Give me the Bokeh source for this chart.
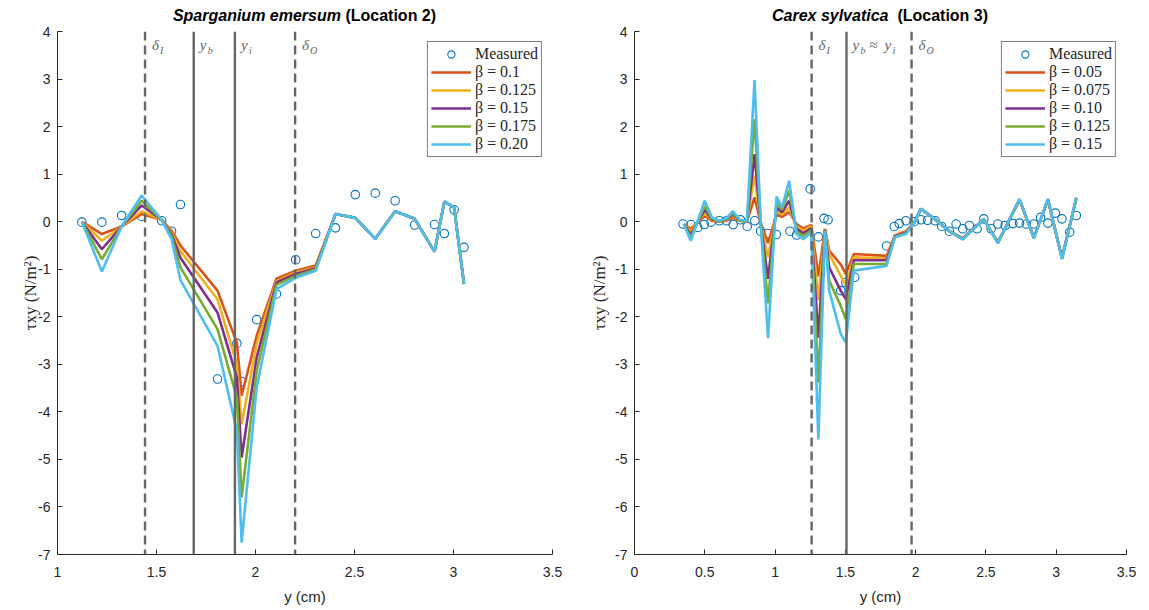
from bokeh.plotting import figure
from bokeh.layouts import row, column
from bokeh.models import Span, Label, Legend, LegendItem, Range1d, FixedTicker, NumeralTickFormatter, Div, Spacer
from bokeh.embed import file_html
from bokeh.resources import INLINE

# ---------------- data: left panel (Sparganium emersum, Location 2) ----------------
left_x = [1.123, 1.224, 1.324, 1.425, 1.526, 1.576, 1.621, 1.808, 1.906, 1.930, 2.006, 2.106,
          2.203, 2.304, 2.404, 2.504, 2.605, 2.705, 2.804, 2.904, 2.954, 3.003, 3.053]
left_measured = [-0.01, -0.01, 0.13, 0.11, 0.02, -0.20, 0.36, -3.31, -2.56, -3.36, -2.06, -1.52,
                 -0.80, -0.25, -0.13, 0.57, 0.60, 0.44, -0.07, -0.06, -0.25, 0.25, -0.54]
left_b010 = [0.0, -0.26, -0.10, 0.16, 0.04, -0.19, -0.50, -1.45, -2.55, -3.66, -2.40, -1.20,
             -1.03, -0.92, 0.16, 0.08, -0.36, 0.22, 0.06, -0.63, 0.42, 0.30, -1.31]
left_b0125 = [0.0, -0.40, -0.10, 0.22, 0.04, -0.23, -0.62, -1.63, -3.00, -4.26, -2.57, -1.25,
              -1.07, -0.96, 0.16, 0.08, -0.36, 0.22, 0.06, -0.63, 0.42, 0.30, -1.31]
left_b015 = [0.0, -0.58, -0.10, 0.34, 0.04, -0.27, -0.76, -1.91, -3.28, -4.96, -2.86, -1.28,
             -1.10, -0.98, 0.16, 0.08, -0.36, 0.22, 0.06, -0.63, 0.42, 0.30, -1.31]
left_b0175 = [0.0, -0.79, -0.10, 0.44, 0.04, -0.31, -0.96, -2.26, -3.70, -5.80, -3.14, -1.33,
              -1.14, -1.00, 0.16, 0.08, -0.36, 0.22, 0.06, -0.63, 0.42, 0.30, -1.31]
left_b020 = [0.0, -1.05, -0.10, 0.55, 0.04, -0.36, -1.23, -2.61, -4.40, -6.75, -3.49, -1.42,
             -1.18, -1.03, 0.16, 0.08, -0.36, 0.22, 0.06, -0.63, 0.42, 0.30, -1.31]
left_betas = ["β = 0.1", "β = 0.125", "β = 0.15", "β = 0.175", "β = 0.20"]
left_lines = [1.442, 1.688, 1.896, 2.200]          # delta_I, y_b, y_i, delta_O

# ---------------- data: right panel (Carex sylvatica, Location 3) ----------------
right_meas_x = [0.345, 0.402, 0.450, 0.497, 0.545, 0.604, 0.654, 0.702, 0.754, 0.802, 0.856, 0.897,
                0.949, 1.008, 1.106, 1.153, 1.250, 1.308, 1.348, 1.377, 1.467, 1.503, 1.567, 1.793,
                1.848, 1.883, 1.931, 1.990, 2.038, 2.085, 2.138, 2.185, 2.240, 2.288, 2.335, 2.382,
                2.437, 2.485, 2.537, 2.585, 2.637, 2.692, 2.739, 2.787, 2.841, 2.889, 2.941, 2.994,
                3.041, 3.096, 3.143]
right_measured = [-0.05, -0.06, -0.12, -0.06, -0.01, 0.02, 0.02, -0.06, 0.04, -0.10, 0.02, -0.20,
                  -0.25, -0.27, -0.20, -0.28, 0.69, -0.32, 0.07, 0.04, -1.45, -1.28, -1.17, -0.51,
                  -0.10, -0.04, 0.02, 0.00, 0.04, 0.03, 0.02, -0.10, -0.20, -0.05, -0.15, -0.08,
                  -0.15, 0.06, -0.15, -0.05, -0.08, -0.04, -0.03, -0.05, -0.05, 0.09, -0.03, 0.18,
                  0.06, -0.22, 0.13]
right_x = [0.35, 0.40, 0.50, 0.55, 0.60, 0.65, 0.70, 0.75, 0.80, 0.854, 0.90, 0.95, 1.01, 1.05,
           1.10, 1.153, 1.20, 1.258, 1.308, 1.355, 1.385, 1.467, 1.503, 1.56, 1.793, 1.852, 1.931,
           1.99, 2.038, 2.138, 2.24, 2.335, 2.485, 2.585, 2.739, 2.841, 2.941, 3.041, 3.143]
right_b005 = [-0.05, -0.15, 0.12, 0.02, 0.00, 0.02, 0.08, 0.02, 0.00, 0.51, -0.05, -0.45, 0.15, 0.10,
              0.20, -0.05, -0.14, -0.07, -1.15, -0.15, -0.61, -0.90, -1.10, -0.68, -0.72, -0.29, -0.20,
              -0.02, 0.27, 0.05, -0.20, -0.35, 0.05, -0.43, 0.45, -0.33, 0.45, -0.75, 0.48]
right_b0075 = [-0.05, -0.20, 0.18, 0.04, 0.00, 0.03, 0.12, 0.02, 0.00, 0.97, -0.08, -0.75, 0.22, 0.15,
               0.30, -0.10, -0.19, -0.10, -1.65, -0.16, -0.68, -1.14, -1.33, -0.75, -0.77, -0.30, -0.22,
               -0.02, 0.27, 0.05, -0.20, -0.36, 0.05, -0.44, 0.46, -0.34, 0.46, -0.77, 0.49]
right_b010 = [-0.05, -0.27, 0.25, 0.05, 0.01, 0.04, 0.15, 0.03, 0.01, 1.42, -0.10, -1.20, 0.30, 0.20,
              0.44, -0.15, -0.24, -0.14, -2.44, -0.17, -0.96, -1.45, -1.63, -0.81, -0.81, -0.31, -0.23,
              -0.02, 0.27, 0.05, -0.20, -0.36, 0.05, -0.44, 0.47, -0.34, 0.47, -0.78, 0.50]
right_b0125 = [-0.05, -0.33, 0.33, 0.07, 0.01, 0.05, 0.18, 0.03, 0.01, 2.16, -0.12, -1.72, 0.40, 0.25,
               0.65, -0.20, -0.30, -0.18, -3.38, -0.18, -1.24, -1.77, -2.05, -0.89, -0.89, -0.32, -0.25,
               -0.02, 0.27, 0.05, -0.20, -0.37, 0.05, -0.45, 0.47, -0.35, 0.47, -0.78, 0.50]
right_b015 = [-0.05, -0.40, 0.44, 0.09, 0.02, 0.06, 0.22, 0.04, 0.02, 2.98, -0.15, -2.45, 0.53, 0.30,
              0.86, -0.26, -0.37, -0.23, -4.58, -0.20, -1.45, -2.36, -2.54, -1.03, -0.93, -0.33, -0.26,
              -0.02, 0.27, 0.05, -0.20, -0.37, 0.05, -0.45, 0.48, -0.35, 0.48, -0.79, 0.51]
right_betas = ["β = 0.05", "β = 0.075", "β = 0.10", "β = 0.125", "β = 0.15"]
right_lines = [1.26, 1.508, 1.971]                 # delta_I, y_b ~ y_i, delta_O

left_xticks = [1, 1.5, 2, 2.5, 3, 3.5]
right_xticks = [0, 0.5, 1, 1.5, 2, 2.5, 3, 3.5]
yticks = [-7, -6, -5, -4, -3, -2, -1, 0, 1, 2, 3, 4]

left_title = ("Sparganium emersum", "(Location 2)")
right_title = ("Carex sylvatica", "&nbsp;(Location 3)")
x_label = "y (cm)"
y_label = "τxy (N/m²)"

COLORS = ["#D95319", "#EDB120", "#7E2F8E", "#77AC30", "#4DBEEE"]
MEAS_COLOR = "#0072BD"
AX = "#262626"
GRAY = "#666666"
SERIF = "Liberation Serif"
SANS = "Liberation Sans"
TITLE_H = 24
AXW = 51          # width of the left axis panel
LEFT_PAD = 6      # space before the left figure


def lab(p, x, y, text, size, style="italic", color=GRAY, xo=0):
    p.add_layout(Label(x=x, y=y, text=text, text_font=SERIF, text_font_size=f"{size}px",
                       text_font_style=style, text_color=color, text_align="left",
                       text_baseline="middle", x_offset=xo))


def make(xr, xticks, width, br, lab_standoff):
    p = figure(width=width, height=610 - TITLE_H, output_backend="svg", toolbar_location=None,
               x_range=Range1d(*xr), y_range=Range1d(-7, 4),
               min_border_left=AXW, min_border_right=br, min_border_top=31 - TITLE_H,
               min_border_bottom=56)
    p.outline_line_color = None
    p.xgrid.visible = False
    p.ygrid.visible = False
    p.xaxis.ticker = FixedTicker(ticks=xticks)
    p.yaxis.ticker = FixedTicker(ticks=yticks)
    p.xaxis.formatter = NumeralTickFormatter(format="0.[0]")
    p.yaxis.formatter = NumeralTickFormatter(format="0")
    for ax in (p.xaxis, p.yaxis):
        ax.axis_line_color = AX
        ax.axis_line_width = 1
        ax.major_tick_line_color = AX
        ax.major_tick_in = 5
        ax.major_tick_out = 0
        ax.minor_tick_line_color = None
        ax.major_label_text_font = SANS
        ax.major_label_text_font_size = "14px"
        ax.major_label_text_color = AX
    p.xaxis.major_label_standoff = 12
    p.yaxis.major_label_standoff = 7
    p.xaxis.axis_label = x_label
    p.xaxis.axis_label_text_font = SANS
    p.xaxis.axis_label_text_font_size = "15px"
    p.xaxis.axis_label_text_font_style = "normal"
    p.xaxis.axis_label_text_color = AX
    p.xaxis.axis_label_standoff = 8
    p.yaxis.axis_label = y_label
    p.yaxis.axis_label_text_font = SERIF
    p.yaxis.axis_label_text_font_size = "17px"
    p.yaxis.axis_label_text_font_style = "normal"
    p.yaxis.axis_label_text_color = AX
    p.yaxis.axis_label_standoff = lab_standoff
    return p


def panel(p, mx, my, lx, series, names, vlines, dashed):
    r_meas = p.scatter(mx, my, marker="circle", size=8.5, fill_color=None,
                       line_color=MEAS_COLOR, line_width=1.1)
    rs = []
    for ys, c in zip(series, COLORS):
        rs.append(p.line(lx, ys, line_color=c, line_width=2.6))
    for loc, d in zip(vlines, dashed):
        p.add_layout(Span(location=loc, dimension="height", line_color=GRAY, line_width=2.4,
                          line_dash="9 5" if d else "solid"))
    items = [LegendItem(label="Measured", renderers=[r_meas])]
    items += [LegendItem(label=n, renderers=[r]) for n, r in zip(names, rs)]
    leg = Legend(items=items, location="top_right", border_line_color="black",
                 border_line_width=1, background_fill_alpha=1.0, label_text_font=SERIF,
                 label_text_font_size="16px", label_text_color=AX, glyph_width=40,
                 glyph_height=18, label_height=18, spacing=0, padding=3, margin=10,
                 label_standoff=4)
    p.add_layout(leg)


def title_div(parts, width, left, frame_w):
    html = (f'<div style="margin-left:{left}px;width:{frame_w}px;text-align:center;'
            f'font-family:\'{SANS}\';font-size:16px;font-weight:bold;color:black;'
            f'line-height:20px;padding-top:6px;white-space:nowrap">'
            f'<i>{parts[0]}</i> {parts[1]}</div>')
    return Div(text=html, width=width, height=TITLE_H, margin=0)


# ---------------- left figure (frame 57..552) ----------------
p1 = make((1, 3.5), left_xticks, 583 - LEFT_PAD, 31, -5)
panel(p1, left_x, left_measured, left_x,
      [left_b010, left_b0125, left_b015, left_b0175, left_b020], left_betas,
      left_lines, [True, False, False, True])
YL = 3.72
lab(p1, left_lines[0], YL, "δ", 15, xo=7)
lab(p1, left_lines[0], YL - 0.12, "I", 10, xo=15)
lab(p1, left_lines[1], YL, "y", 15, xo=6)
lab(p1, left_lines[1], YL - 0.12, "b", 10, xo=14)
lab(p1, left_lines[2], YL, "y", 15, xo=6)
lab(p1, left_lines[2], YL - 0.12, "i", 10, xo=14)
lab(p1, left_lines[3], YL, "δ", 15, xo=7)
lab(p1, left_lines[3], YL - 0.12, "O", 10, xo=15)

# ---------------- right figure (frame 634..1126) ----------------
p2 = make((0, 3.5), right_xticks, 566, 23, 3)
panel(p2, right_meas_x, right_measured, right_x,
      [right_b005, right_b0075, right_b010, right_b0125, right_b015], right_betas,
      right_lines, [True, False, True])
lab(p2, right_lines[0], YL, "δ", 15, xo=7)
lab(p2, right_lines[0], YL - 0.12, "I", 10, xo=15)
lab(p2, right_lines[1], YL, "y", 15, xo=6)
lab(p2, right_lines[1], YL - 0.12, "b", 10, xo=14)
lab(p2, right_lines[1], YL, "≈", 15, "normal", xo=23)
lab(p2, right_lines[1], YL, "y", 15, xo=38)
lab(p2, right_lines[1], YL - 0.12, "i", 10, xo=46)
lab(p2, right_lines[2], YL, "δ", 15, xo=7)
lab(p2, right_lines[2], YL - 0.12, "O", 10, xo=15)

d1 = title_div(left_title, 583, 57, 495)
d2 = title_div(right_title, 566, 51, 492)

layout = column(row(d1, d2), row(Spacer(width=LEFT_PAD, height=10), p1, p2))
open("out.html", "w").write(file_html(layout, INLINE))
